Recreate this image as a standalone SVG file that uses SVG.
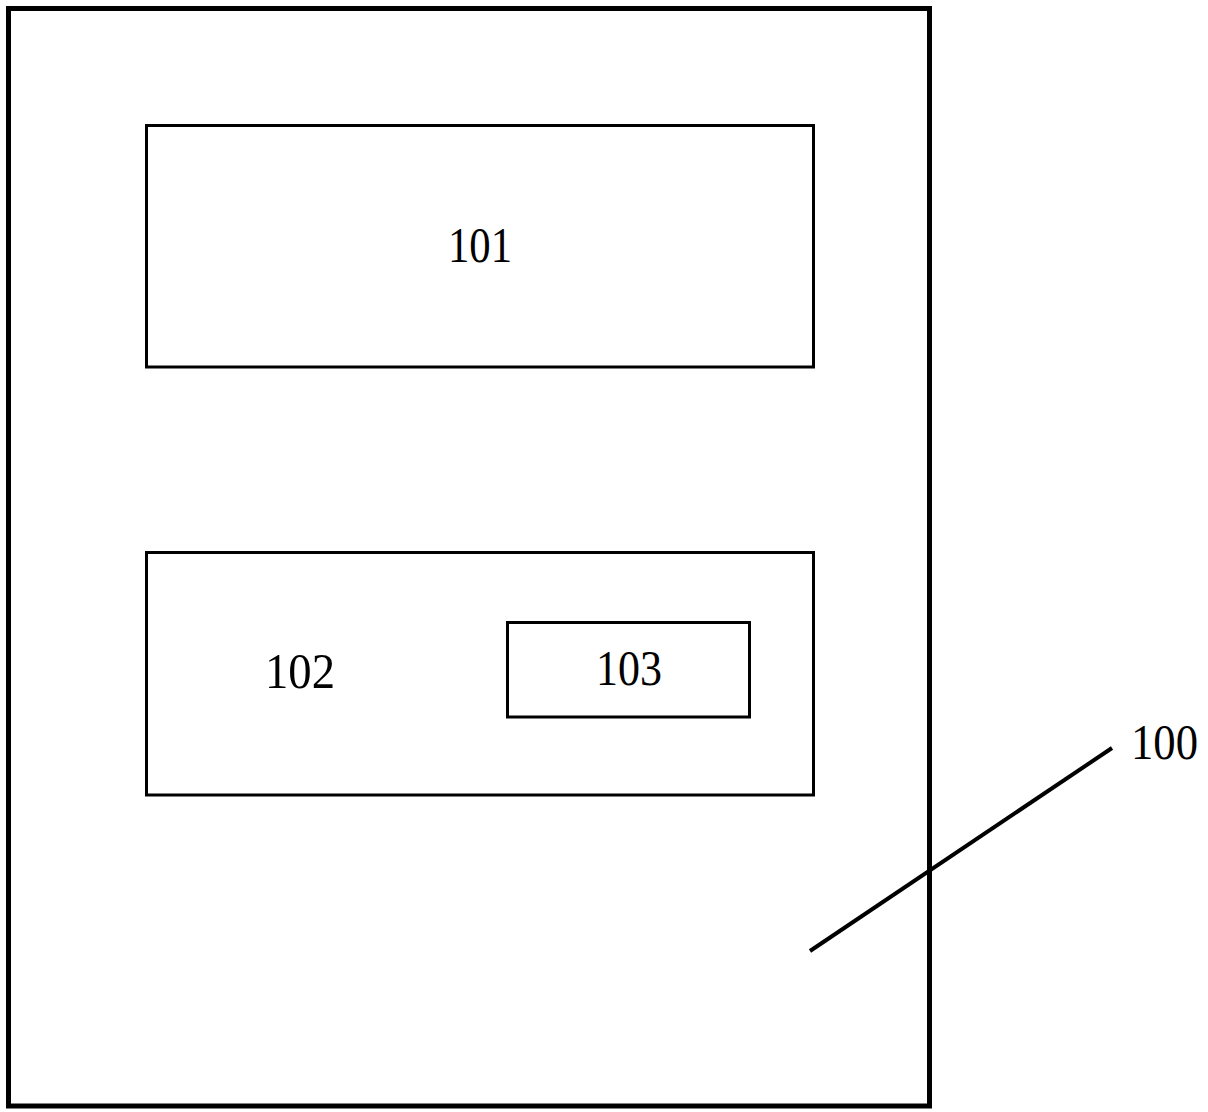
<svg xmlns="http://www.w3.org/2000/svg" width="1208" height="1112" viewBox="0 0 1208 1112">
<style>
.box{fill:none;stroke:#000;stroke-width:3}
.outer{fill:none;stroke:#000;stroke-width:5}
.lbl{font-family:"Liberation Serif","Times New Roman",serif;font-size:50px;fill:#000;text-anchor:middle}
.lead{stroke:#000;stroke-width:4;fill:none}
</style>
<rect width="1208" height="1112" fill="#fff"/>
<g id="node-100">
<rect class="outer" x="8.5" y="8.5" width="921" height="1097.5"/>
<text class="lbl" x="1164.5" y="759" textLength="67" lengthAdjust="spacingAndGlyphs">100</text>
</g>
<g id="node-101">
<rect class="box" x="146.5" y="125.5" width="667" height="241.5"/>
<text class="lbl" x="480" y="262" textLength="64" lengthAdjust="spacingAndGlyphs">101</text>
</g>
<g id="node-102">
<rect class="box" x="146.5" y="552.5" width="667" height="242.5"/>
<text class="lbl" x="300" y="688" textLength="70" lengthAdjust="spacingAndGlyphs">102</text>
</g>
<g id="node-103">
<rect class="box" x="507.5" y="622.5" width="242" height="94.5"/>
<text class="lbl" x="629" y="685" textLength="66" lengthAdjust="spacingAndGlyphs">103</text>
</g>
<g id="connectors">
<line class="lead" x1="810" y1="951" x2="1112" y2="748"/>
</g>
</svg>
